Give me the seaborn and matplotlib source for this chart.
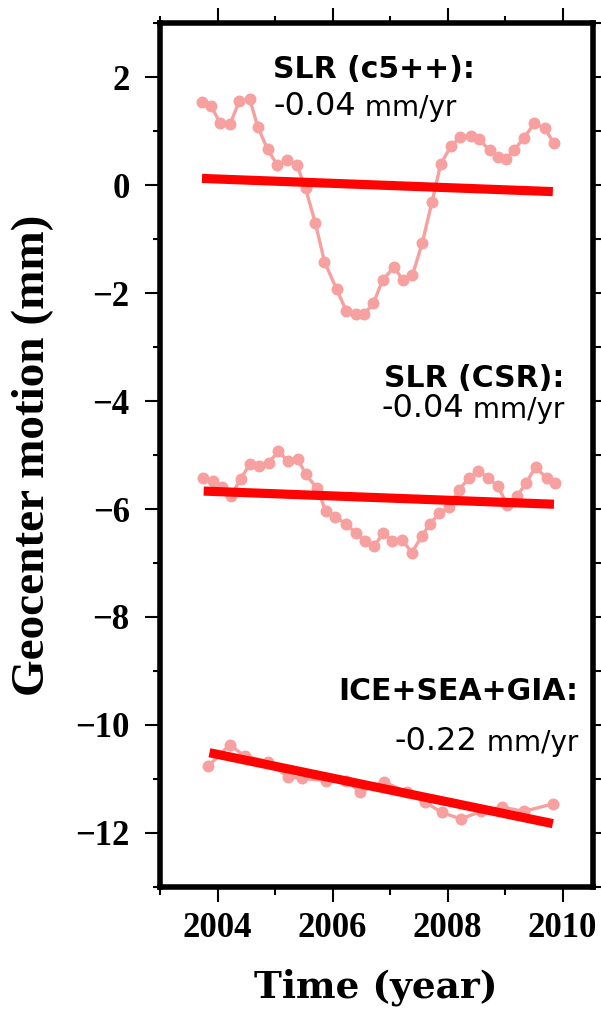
import matplotlib
matplotlib.use("Agg")
import matplotlib.pyplot as plt
from matplotlib.ticker import MultipleLocator
from matplotlib.font_manager import FontProperties
import seaborn as sns
import pandas as pd

# ---- data -------------------------------------------------------------
# SLR (c5++) geocenter motion, mm
c5_year = [2003.73, 2003.89, 2004.05, 2004.22, 2004.38, 2004.56, 2004.70, 2004.87,
           2005.04, 2005.21, 2005.38, 2005.53, 2005.70, 2005.86, 2006.07, 2006.24,
           2006.40, 2006.55, 2006.71, 2006.87, 2007.07, 2007.22, 2007.39, 2007.56,
           2007.73, 2007.88, 2008.06, 2008.22, 2008.40, 2008.55, 2008.73, 2008.87,
           2009.01, 2009.16, 2009.33, 2009.51, 2009.69, 2009.85]
c5_mm = [1.54, 1.46, 1.14, 1.13, 1.56, 1.59, 1.08, 0.66,
         0.37, 0.46, 0.37, -0.06, -0.70, -1.42, -1.93, -2.33,
         -2.38, -2.39, -2.19, -1.76, -1.52, -1.76, -1.67, -1.07,
         -0.31, 0.39, 0.72, 0.89, 0.91, 0.85, 0.64, 0.51,
         0.48, 0.65, 0.88, 1.14, 1.05, 0.77]

# SLR (CSR) geocenter motion, mm
csr_year = [2003.74, 2003.93, 2004.08, 2004.23, 2004.40, 2004.56, 2004.72, 2004.89,
            2005.06, 2005.23, 2005.40, 2005.53, 2005.73, 2005.88, 2006.05, 2006.23,
            2006.40, 2006.56, 2006.72, 2006.88, 2007.04, 2007.21, 2007.38, 2007.55,
            2007.70, 2007.85, 2008.03, 2008.20, 2008.37, 2008.53, 2008.71, 2008.87,
            2009.04, 2009.21, 2009.37, 2009.53, 2009.72, 2009.87]
csr_mm = [-5.43, -5.49, -5.59, -5.76, -5.45, -5.17, -5.20, -5.14,
          -4.93, -5.12, -5.08, -5.35, -5.62, -6.03, -6.14, -6.28,
          -6.44, -6.59, -6.69, -6.45, -6.59, -6.57, -6.81, -6.50,
          -6.27, -6.08, -5.96, -5.64, -5.43, -5.29, -5.43, -5.57,
          -5.93, -5.76, -5.51, -5.22, -5.43, -5.51]

# ICE+SEA+GIA geocenter motion, mm
ice_year = [2003.84, 2004.21, 2004.47, 2004.87, 2005.22, 2005.47, 2005.88, 2006.24,
            2006.48, 2006.89, 2007.30, 2007.60, 2007.90, 2008.23, 2008.58, 2008.94,
            2009.33, 2009.83]
ice_mm = [-10.76, -10.37, -10.57, -10.68, -10.96, -10.99, -11.03, -11.03,
          -11.24, -11.05, -11.25, -11.42, -11.62, -11.74, -11.60, -11.52,
          -11.60, -11.46]

# linear trends (mm/yr), anchored at the middle of each record
series_titles = ["SLR (c5++):", "SLR (CSR):", "ICE+SEA+GIA:"]
trend_rates = [-0.04, -0.04, -0.22]
trend_start = [2003.73, 2003.76, 2003.86]
trend_end = [2009.83, 2009.85, 2009.83]
trend_mid_mm = [0.00, -5.79, -11.17]

series = [(c5_year, c5_mm), (csr_year, csr_mm), (ice_year, ice_mm)]

# ---- styling ----------------------------------------------------------
sns.set_style("white")
plt.rcParams["font.family"] = ["DejaVu Sans"]
plt.rcParams.update({"text.color": "black", "axes.labelcolor": "black",
                     "xtick.color": "black", "ytick.color": "black",
                     "axes.edgecolor": "black"})

PINK = "#f7a0a0"
RED = "#ff0303"
TICK_FONT = dict(family=["Liberation Serif"], weight="bold", size=25)
NOTE_FONT = ["DejaVu Sans"]

fig = plt.figure(figsize=(6.01, 10.10), dpi=100)
ax = fig.add_axes([0.2662, 0.1218, 0.7197, 0.8554])

for (yr, mm) in series:
    df = pd.DataFrame({"year": yr, "mm": mm})
    sns.lineplot(data=df, x="year", y="mm", ax=ax, color=PINK, lw=2.4,
                 marker="o", markersize=8.6, markeredgewidth=0,
                 sort=False, estimator=None, zorder=2)

for rate, x0, x1, ymid in zip(trend_rates, trend_start, trend_end, trend_mid_mm):
    xm = 0.5 * (x0 + x1)
    tdf = pd.DataFrame({"year": [x0, x1],
                        "mm": [ymid + rate * (x0 - xm), ymid + rate * (x1 - xm)]})
    sns.lineplot(data=tdf, x="year", y="mm", ax=ax, color=RED, lw=6.6,
                 sort=False, estimator=None, zorder=3)
    ax.lines[-1].set_solid_capstyle("butt")

ax.set_xlim(2003, 2010.52)
ax.set_ylim(-13, 3)
ax.xaxis.set_major_locator(MultipleLocator(2))
ax.xaxis.set_minor_locator(MultipleLocator(1))
ax.yaxis.set_major_locator(MultipleLocator(2))
ax.yaxis.set_minor_locator(MultipleLocator(1))

for side in ax.spines.values():
    side.set_linewidth(4.0)
    side.set_color("black")
    side.set_visible(True)

ax.tick_params(which="both", direction="out", top=True, right=True,
               bottom=True, left=True, color="black", width=1.5)
ax.tick_params(which="major", length=10.8)
ax.tick_params(which="minor", length=5.4)
ax.tick_params(axis="y", which="major", pad=11)
ax.tick_params(axis="x", which="major", pad=7)
for lab in ax.get_xticklabels() + ax.get_yticklabels():
    lab.set_fontproperties(FontProperties(**TICK_FONT))
    lab.set_color("black")

ax.set_xlabel("Time (year)", family=["DejaVu Serif"], weight="bold",
              fontsize=27, color="black")
ax.set_ylabel("Geocenter motion (mm)", family=["Liberation Serif"],
              weight="bold", fontsize=34, color="black")
ax.xaxis.set_label_coords(0.5, -0.094)
ax.yaxis.set_label_coords(-0.245, 0.5)


def rate_note(x, y1, y2, title, rate, ha):
    """Bold series title plus its trend rate with a smaller unit."""
    ax.text(x, y1, title, ha=ha, va="baseline", family=NOTE_FONT,
            weight="bold", fontsize=21.5, color="black", zorder=5)
    number = f"{rate:.2f}"
    if ha == "left":
        t = ax.text(x, y2, number, ha="left", va="baseline",
                    family=NOTE_FONT, fontsize=23, color="black", zorder=5)
        ax.annotate(" mm/yr", xy=(1, 0), xycoords=t, ha="left", va="bottom",
                    family=NOTE_FONT, fontsize=20, color="black", zorder=5)
    else:
        t = ax.text(x, y2, " mm/yr", ha="right", va="baseline",
                    family=NOTE_FONT, fontsize=20, color="black", zorder=5)
        ax.annotate(number, xy=(0, 0), xycoords=t, ha="right", va="bottom",
                    family=NOTE_FONT, fontsize=23, color="black", zorder=5)


rate_note(2004.97, 1.98, 1.30, series_titles[0], trend_rates[0], "left")
rate_note(2010.03, -3.74, -4.31, series_titles[1], trend_rates[1], "right")
rate_note(2010.27, -9.54, -10.48, series_titles[2], trend_rates[2], "right")

fig.savefig("out.png", dpi=100, facecolor="white")
